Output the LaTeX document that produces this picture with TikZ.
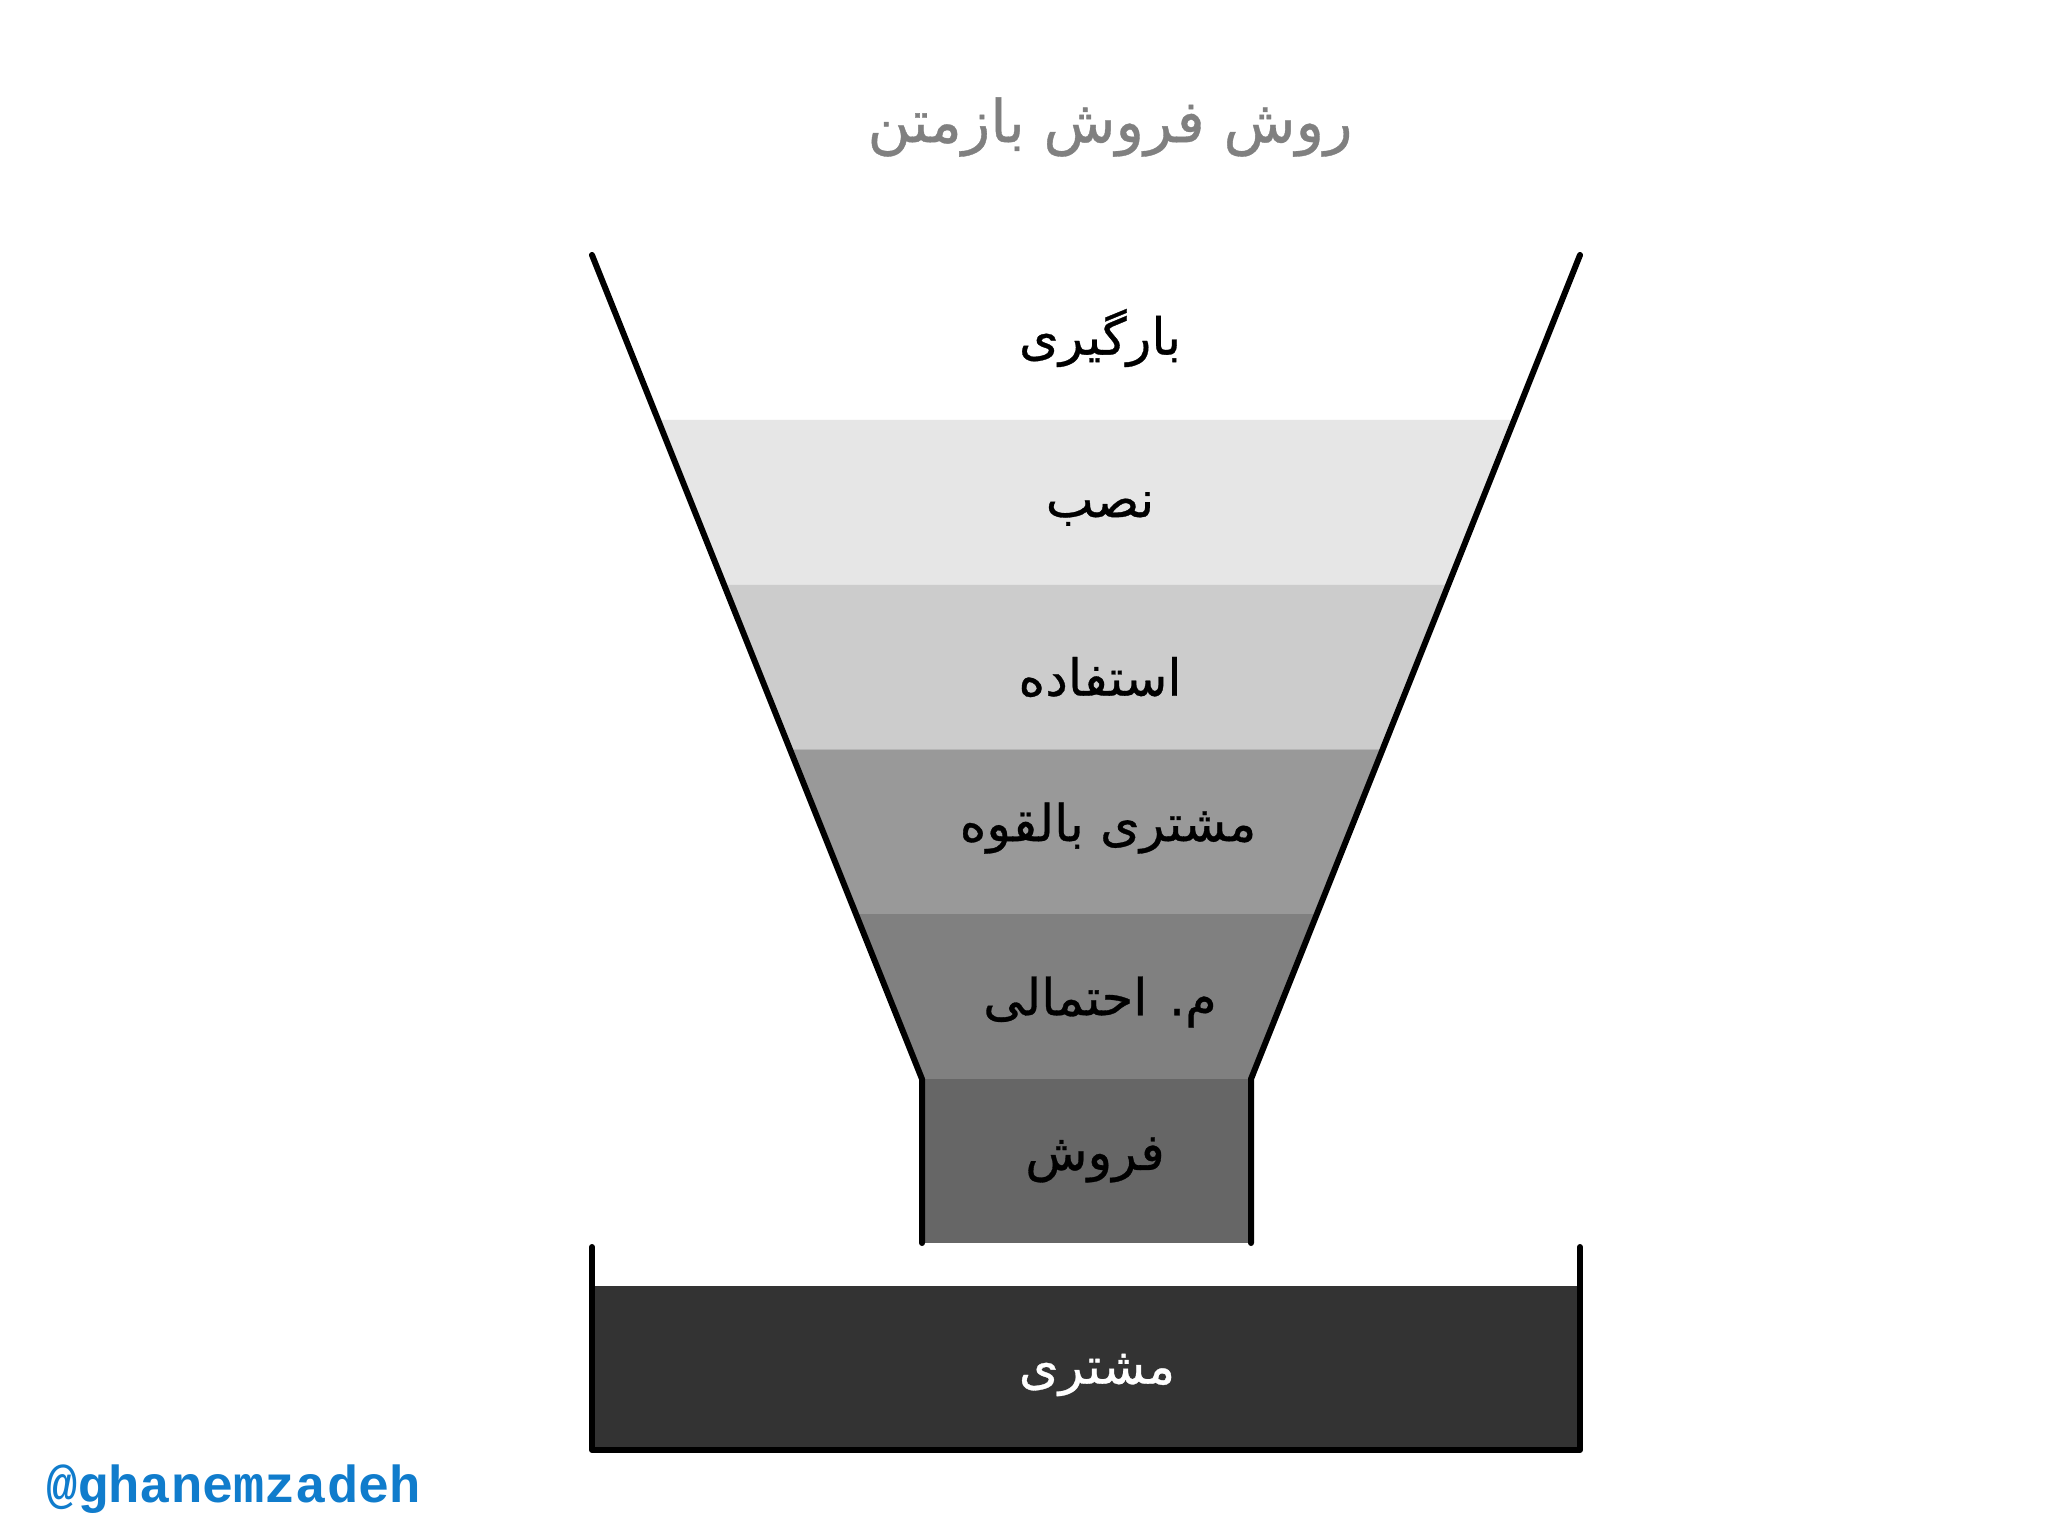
\documentclass[tikz,border=0pt]{standalone}
\usepackage{fontspec}
\usepackage{xcolor}
\usetikzlibrary{calc}
\TeXXeTstate=1
\newfontfamily\farsi[Script=Arabic, FakeBold=0.6]{DejaVu Sans}
\setmonofont{Liberation Mono}
\definecolor{lvone}{RGB}{255, 255, 255}
\definecolor{lvtwo}{RGB}{230, 230, 230}
\definecolor{lvthr}{RGB}{204, 204, 204}
\definecolor{lvfou}{RGB}{153, 153, 153}
\definecolor{lvfiv}{RGB}{128, 128, 128}
\definecolor{lvsix}{RGB}{102, 102, 102}
\definecolor{cust}{RGB}{51, 51, 51}
\definecolor{ttl}{RGB}{128, 128, 128}
\definecolor{wm}{RGB}{16, 124, 204}

\begin{document}
\begin{tikzpicture}[x=1pt, y=-1pt,
    lbl/.style={font=\farsi\fontsize{51}{60}\selectfont, text=black},
    rim/.style={line width=6pt, line cap=round, line join=round}]
      \fill[white] (0, 0) rectangle (2048, 1535);
      \useasboundingbox (0, 0) rectangle (2048, 1535);
      \coordinate (lt) at (592, 255);
      \coordinate (rt) at (1580, 255);
      \coordinate (nl) at (922, 1079);
      \coordinate (nr) at (1251, 1079);
      \coordinate (bl) at (922, 1243);
      \coordinate (br) at (1251, 1243);
      \foreach \i/\col in {0/lvone, 1/lvtwo, 2/lvthr, 3/lvfou, 4/lvfiv}
        \fill[color=\col] ($(lt)!\i/5!(nl)$) -- ($(lt)!\i/5+0.2!(nl)$)
          -- ($(rt)!\i/5+0.2!(nr)$) -- ($(rt)!\i/5!(nr)$) -- cycle;
      \fill[color=lvsix] (nl) rectangle (br);
      \draw[rim] (lt) -- (nl) -- (bl);
      \draw[rim] (rt) -- (nr) -- (br);
      \fill[color=cust] (592, 1286) rectangle (1580, 1450);
      \draw[rim] (592, 1247) -- (592, 1450) -- (1580, 1450) -- (1580, 1247);
      \node[font=\farsi\fontsize{59}{70}\selectfont, text=ttl] (title) at (1110, 127) {\beginR روش فروش بازمتن\endR};
      \node[lbl] (load) at (1100, 338) {\beginR بارگیری\endR};
      \node[lbl] (inst) at (1100, 509) {\beginR نصب\endR};
      \node[lbl] (use) at (1100, 677) {\beginR استفاده\endR};
      \node[lbl] (lead) at (1108, 828) {\beginR مشتری بالقوه\endR};
      \node[lbl] (prob) at (1100, 1002) {\beginR م. احتمالی\endR};
      \node[lbl] (sale) at (1095, 1160) {\beginR فروش\endR};
      \node[lbl, text=white] (cust) at (1097, 1375) {\beginR مشتری\endR};
      \node[font=\ttfamily\bfseries\fontsize{52}{60}\selectfont, text=wm, anchor=west, inner sep=0pt] (tag) at (46, 1489) {@ghanemzadeh};
    \end{tikzpicture}
\end{document}
